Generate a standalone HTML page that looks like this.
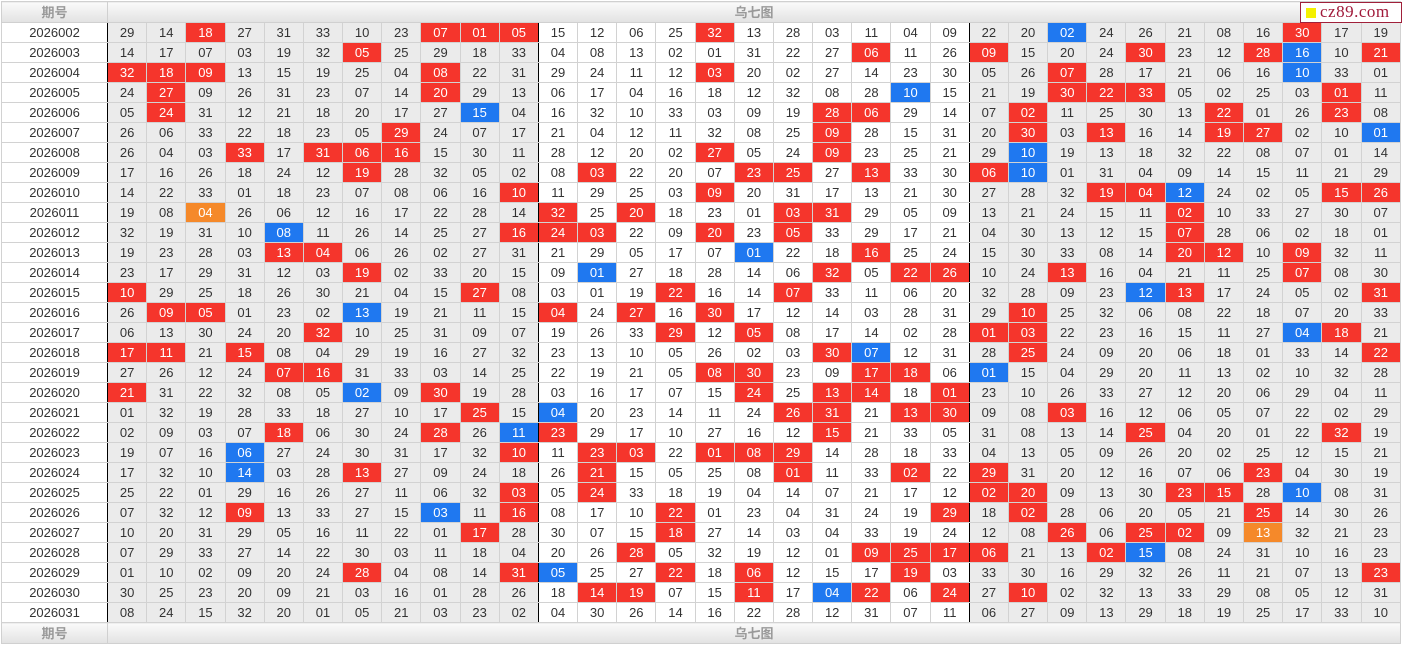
<!DOCTYPE html>
<html><head><meta charset="utf-8">
<style>
html,body{margin:0;padding:0;background:#fff;}
body{width:1404px;height:647px;overflow:hidden;position:relative;font-family:"Liberation Sans","Noto Sans CJK SC",sans-serif;}
table{position:absolute;left:1px;top:1px;border-collapse:collapse;table-layout:fixed;width:1400px;font-size:13px;color:#333;}
td{border:1px solid #d2d2d2;height:19px;padding:0;text-align:center;line-height:19px;overflow:hidden;white-space:nowrap;}
col.g{background:#ebebeb;}
tr.h td{height:20px;background:linear-gradient(#fafafa,#e2e2e2);color:#999;font-weight:bold;border-color:#d0d0d0;}
tbody tr:not(.h) td:nth-child(1),tbody tr:not(.h) td:nth-child(12),tbody tr:not(.h) td:nth-child(23){border-right:1px solid #000;}
tbody tr:not(.h) td:nth-child(2),tbody tr:not(.h) td:nth-child(13),tbody tr:not(.h) td:nth-child(24){border-left:1px solid #000;}
td.r{background:#f5352c;color:#fff;}
td.b{background:#1f78f0;color:#fff;}
td.o{background:#f5892a;color:#fff;}
td.p{background:#fff;}
.wm{position:absolute;left:1300px;top:2px;width:100px;height:19px;border:1px solid #a0203a;background:#fff;}
.wm i{position:absolute;left:5px;top:5px;width:10px;height:10px;background:#f4f000;}
.wm span{position:absolute;left:19px;top:-1px;font-family:"Liberation Serif",serif;font-size:17px;color:#a01a3a;letter-spacing:0.5px;}
</style></head><body>
<table>
<colgroup><col style="width:106px"><col class=g span=11><col span=11><col class=g span=11></colgroup>
<thead><tr class=h><td>期号<td colspan=33>乌七图</tr></thead>
<tbody>
<tr><td class=p>2026002<td>29<td>14<td class=r>18<td>27<td>31<td>33<td>10<td>23<td class=r>07<td class=r>01<td class=r>05<td>15<td>12<td>06<td>25<td class=r>32<td>13<td>28<td>03<td>11<td>04<td>09<td>22<td>20<td class=b>02<td>24<td>26<td>21<td>08<td>16<td class=r>30<td>17<td>19</tr>
<tr><td class=p>2026003<td>14<td>17<td>07<td>03<td>19<td>32<td class=r>05<td>25<td>29<td>18<td>33<td>04<td>08<td>13<td>02<td>01<td>31<td>22<td>27<td class=r>06<td>11<td>26<td class=r>09<td>15<td>20<td>24<td class=r>30<td>23<td>12<td class=r>28<td class=b>16<td>10<td class=r>21</tr>
<tr><td class=p>2026004<td class=r>32<td class=r>18<td class=r>09<td>13<td>15<td>19<td>25<td>04<td class=r>08<td>22<td>31<td>29<td>24<td>11<td>12<td class=r>03<td>20<td>02<td>27<td>14<td>23<td>30<td>05<td>26<td class=r>07<td>28<td>17<td>21<td>06<td>16<td class=b>10<td>33<td>01</tr>
<tr><td class=p>2026005<td>24<td class=r>27<td>09<td>26<td>31<td>23<td>07<td>14<td class=r>20<td>29<td>13<td>06<td>17<td>04<td>16<td>18<td>12<td>32<td>08<td>28<td class=b>10<td>15<td>21<td>19<td class=r>30<td class=r>22<td class=r>33<td>05<td>02<td>25<td>03<td class=r>01<td>11</tr>
<tr><td class=p>2026006<td>05<td class=r>24<td>31<td>12<td>21<td>18<td>20<td>17<td>27<td class=b>15<td>04<td>16<td>32<td>10<td>33<td>03<td>09<td>19<td class=r>28<td class=r>06<td>29<td>14<td>07<td class=r>02<td>11<td>25<td>30<td>13<td class=r>22<td>01<td>26<td class=r>23<td>08</tr>
<tr><td class=p>2026007<td>26<td>06<td>33<td>22<td>18<td>23<td>05<td class=r>29<td>24<td>07<td>17<td>21<td>04<td>12<td>11<td>32<td>08<td>25<td class=r>09<td>28<td>15<td>31<td>20<td class=r>30<td>03<td class=r>13<td>16<td>14<td class=r>19<td class=r>27<td>02<td>10<td class=b>01</tr>
<tr><td class=p>2026008<td>26<td>04<td>03<td class=r>33<td>17<td class=r>31<td class=r>06<td class=r>16<td>15<td>30<td>11<td>28<td>12<td>20<td>02<td class=r>27<td>05<td>24<td class=r>09<td>23<td>25<td>21<td>29<td class=b>10<td>19<td>13<td>18<td>32<td>22<td>08<td>07<td>01<td>14</tr>
<tr><td class=p>2026009<td>17<td>16<td>26<td>18<td>24<td>12<td class=r>19<td>28<td>32<td>05<td>02<td>08<td class=r>03<td>22<td>20<td>07<td class=r>23<td class=r>25<td>27<td class=r>13<td>33<td>30<td class=r>06<td class=b>10<td>01<td>31<td>04<td>09<td>14<td>15<td>11<td>21<td>29</tr>
<tr><td class=p>2026010<td>14<td>22<td>33<td>01<td>18<td>23<td>07<td>08<td>06<td>16<td class=r>10<td>11<td>29<td>25<td>03<td class=r>09<td>20<td>31<td>17<td>13<td>21<td>30<td>27<td>28<td>32<td class=r>19<td class=r>04<td class=b>12<td>24<td>02<td>05<td class=r>15<td class=r>26</tr>
<tr><td class=p>2026011<td>19<td>08<td class=o>04<td>26<td>06<td>12<td>16<td>17<td>22<td>28<td>14<td class=r>32<td>25<td class=r>20<td>18<td>23<td>01<td class=r>03<td class=r>31<td>29<td>05<td>09<td>13<td>21<td>24<td>15<td>11<td class=r>02<td>10<td>33<td>27<td>30<td>07</tr>
<tr><td class=p>2026012<td>32<td>19<td>31<td>10<td class=b>08<td>11<td>26<td>14<td>25<td>27<td class=r>16<td class=r>24<td class=r>03<td>22<td>09<td class=r>20<td>23<td class=r>05<td>33<td>29<td>17<td>21<td>04<td>30<td>13<td>12<td>15<td class=r>07<td>28<td>06<td>02<td>18<td>01</tr>
<tr><td class=p>2026013<td>19<td>23<td>28<td>03<td class=r>13<td class=r>04<td>06<td>26<td>02<td>27<td>31<td>21<td>29<td>05<td>17<td>07<td class=b>01<td>22<td>18<td class=r>16<td>25<td>24<td>15<td>30<td>33<td>08<td>14<td class=r>20<td class=r>12<td>10<td class=r>09<td>32<td>11</tr>
<tr><td class=p>2026014<td>23<td>17<td>29<td>31<td>12<td>03<td class=r>19<td>02<td>33<td>20<td>15<td>09<td class=b>01<td>27<td>18<td>28<td>14<td>06<td class=r>32<td>05<td class=r>22<td class=r>26<td>10<td>24<td class=r>13<td>16<td>04<td>21<td>11<td>25<td class=r>07<td>08<td>30</tr>
<tr><td class=p>2026015<td class=r>10<td>29<td>25<td>18<td>26<td>30<td>21<td>04<td>15<td class=r>27<td>08<td>03<td>01<td>19<td class=r>22<td>16<td>14<td class=r>07<td>33<td>11<td>06<td>20<td>32<td>28<td>09<td>23<td class=b>12<td class=r>13<td>17<td>24<td>05<td>02<td class=r>31</tr>
<tr><td class=p>2026016<td>26<td class=r>09<td class=r>05<td>01<td>23<td>02<td class=b>13<td>19<td>21<td>11<td>15<td class=r>04<td>24<td class=r>27<td>16<td class=r>30<td>17<td>12<td>14<td>03<td>28<td>31<td>29<td class=r>10<td>25<td>32<td>06<td>08<td>22<td>18<td>07<td>20<td>33</tr>
<tr><td class=p>2026017<td>06<td>13<td>30<td>24<td>20<td class=r>32<td>10<td>25<td>31<td>09<td>07<td>19<td>26<td>33<td class=r>29<td>12<td class=r>05<td>08<td>17<td>14<td>02<td>28<td class=r>01<td class=r>03<td>22<td>23<td>16<td>15<td>11<td>27<td class=b>04<td class=r>18<td>21</tr>
<tr><td class=p>2026018<td class=r>17<td class=r>11<td>21<td class=r>15<td>08<td>04<td>29<td>19<td>16<td>27<td>32<td>23<td>13<td>10<td>05<td>26<td>02<td>03<td class=r>30<td class=b>07<td>12<td>31<td>28<td class=r>25<td>24<td>09<td>20<td>06<td>18<td>01<td>33<td>14<td class=r>22</tr>
<tr><td class=p>2026019<td>27<td>26<td>12<td>24<td class=r>07<td class=r>16<td>31<td>33<td>03<td>14<td>25<td>22<td>19<td>21<td>05<td class=r>08<td class=r>30<td>23<td>09<td class=r>17<td class=r>18<td>06<td class=b>01<td>15<td>04<td>29<td>20<td>11<td>13<td>02<td>10<td>32<td>28</tr>
<tr><td class=p>2026020<td class=r>21<td>31<td>22<td>32<td>08<td>05<td class=b>02<td>09<td class=r>30<td>19<td>28<td>03<td>16<td>17<td>07<td>15<td class=r>24<td>25<td class=r>13<td class=r>14<td>18<td class=r>01<td>23<td>10<td>26<td>33<td>27<td>12<td>20<td>06<td>29<td>04<td>11</tr>
<tr><td class=p>2026021<td>01<td>32<td>19<td>28<td>33<td>18<td>27<td>10<td>17<td class=r>25<td>15<td class=b>04<td>20<td>23<td>14<td>11<td>24<td class=r>26<td class=r>31<td>21<td class=r>13<td class=r>30<td>09<td>08<td class=r>03<td>16<td>12<td>06<td>05<td>07<td>22<td>02<td>29</tr>
<tr><td class=p>2026022<td>02<td>09<td>03<td>07<td class=r>18<td>06<td>30<td>24<td class=r>28<td>26<td class=b>11<td class=r>23<td>29<td>17<td>10<td>27<td>16<td>12<td class=r>15<td>21<td>33<td>05<td>31<td>08<td>13<td>14<td class=r>25<td>04<td>20<td>01<td>22<td class=r>32<td>19</tr>
<tr><td class=p>2026023<td>19<td>07<td>16<td class=b>06<td>27<td>24<td>30<td>31<td>17<td>32<td class=r>10<td>11<td class=r>23<td class=r>03<td>22<td class=r>01<td class=r>08<td class=r>29<td>14<td>28<td>18<td>33<td>04<td>13<td>05<td>09<td>26<td>20<td>02<td>25<td>12<td>15<td>21</tr>
<tr><td class=p>2026024<td>17<td>32<td>10<td class=b>14<td>03<td>28<td class=r>13<td>27<td>09<td>24<td>18<td>26<td class=r>21<td>15<td>05<td>25<td>08<td class=r>01<td>11<td>33<td class=r>02<td>22<td class=r>29<td>31<td>20<td>12<td>16<td>07<td>06<td class=r>23<td>04<td>30<td>19</tr>
<tr><td class=p>2026025<td>25<td>22<td>01<td>29<td>16<td>26<td>27<td>11<td>06<td>32<td class=r>03<td>05<td class=r>24<td>33<td>18<td>19<td>04<td>14<td>07<td>21<td>17<td>12<td class=r>02<td class=r>20<td>09<td>13<td>30<td class=r>23<td class=r>15<td>28<td class=b>10<td>08<td>31</tr>
<tr><td class=p>2026026<td>07<td>32<td>12<td class=r>09<td>13<td>33<td>27<td>15<td class=b>03<td>11<td class=r>16<td>08<td>17<td>10<td class=r>22<td>01<td>23<td>04<td>31<td>24<td>19<td class=r>29<td>18<td class=r>02<td>28<td>06<td>20<td>05<td>21<td class=r>25<td>14<td>30<td>26</tr>
<tr><td class=p>2026027<td>10<td>20<td>31<td>29<td>05<td>16<td>11<td>22<td>01<td class=r>17<td>28<td>30<td>07<td>15<td class=r>18<td>27<td>14<td>03<td>04<td>33<td>19<td>24<td>12<td>08<td class=r>26<td>06<td class=r>25<td class=r>02<td>09<td class=o>13<td>32<td>21<td>23</tr>
<tr><td class=p>2026028<td>07<td>29<td>33<td>27<td>14<td>22<td>30<td>03<td>11<td>18<td>04<td>20<td>26<td class=r>28<td>05<td>32<td>19<td>12<td>01<td class=r>09<td class=r>25<td class=r>17<td class=r>06<td>21<td>13<td class=r>02<td class=b>15<td>08<td>24<td>31<td>10<td>16<td>23</tr>
<tr><td class=p>2026029<td>01<td>10<td>02<td>09<td>20<td>24<td class=r>28<td>04<td>08<td>14<td class=r>31<td class=b>05<td>25<td>27<td class=r>22<td>18<td class=r>06<td>12<td>15<td>17<td class=r>19<td>03<td>33<td>30<td>16<td>29<td>32<td>26<td>11<td>21<td>07<td>13<td class=r>23</tr>
<tr><td class=p>2026030<td>30<td>25<td>23<td>20<td>09<td>21<td>03<td>16<td>01<td>28<td>26<td>18<td class=r>14<td class=r>19<td>07<td>15<td class=r>11<td>17<td class=b>04<td class=r>22<td>06<td class=r>24<td>27<td class=r>10<td>02<td>32<td>13<td>33<td>29<td>08<td>05<td>12<td>31</tr>
<tr><td class=p>2026031<td>08<td>24<td>15<td>32<td>20<td>01<td>05<td>21<td>03<td>23<td>02<td>04<td>30<td>26<td>14<td>16<td>22<td>28<td>12<td>31<td>07<td>11<td>06<td>27<td>09<td>13<td>29<td>18<td>19<td>25<td>17<td>33<td>10</tr>
<tr class=h><td>期号<td colspan=33>乌七图</tr>
</tbody></table>
<div class=wm><i></i><span>cz89.com</span></div>
</body></html>
